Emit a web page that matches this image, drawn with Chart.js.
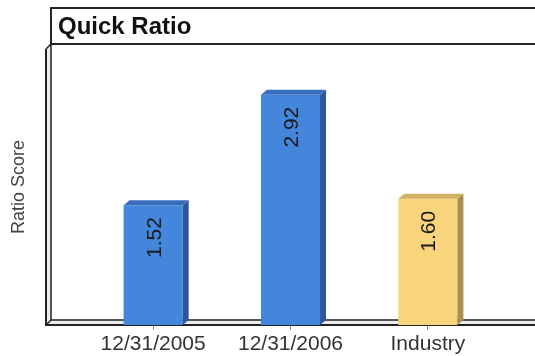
<!DOCTYPE html>
<html>
<head>
<meta charset="utf-8">
<script src="https://cdn.jsdelivr.net/npm/chart.js@4/dist/chart.umd.min.js"></script>
<style>
  html, body { margin: 0; padding: 0; background: #ffffff; }
  #wrap { width: 535px; height: 356px; }
</style>
</head>
<body>
<div id="wrap"><canvas id="c" width="535" height="356"></canvas></div>
<script>
// Quick ratio by period, compared with the industry figure
const categories = ['12/31/2005', '12/31/2006', 'Industry'];
const ratioValues = [1.52, 2.92, 1.60];
const chartTitle = 'Quick Ratio';
const yAxisTitle = 'Ratio Score';

const frontColors = ['#4386DC', '#4386DC', '#F8D57C'];
const sideColors  = ['#2D5898', '#2D5898', '#A98E4F'];
const topColors   = ['#3A6CBD', '#3A6CBD', '#D3B163'];

const FONT = '"Liberation Sans", Arial, Helvetica, sans-serif';
const WALL = { dx: 5, dy: -5 };   // depth of the back wall / floor
const BAR  = { dx: 6, dy: -5 };   // depth of each 3D bar

// Title box, back wall and floor drawn behind the bars
const frame3d = {
  id: 'frame3d',
  beforeDatasetsDraw(chart) {
    const { ctx, chartArea: a } = chart;
    const W = chart.width;
    const L = a.left, B = a.bottom, T = a.top;
    const iL = L + WALL.dx, iT = T + WALL.dy, iB = B + WALL.dy;
    ctx.save();

    // title box
    ctx.fillStyle = '#ffffff';
    ctx.fillRect(iL, 8, W, iT - 8);
    ctx.strokeStyle = '#262626';
    ctx.lineWidth = 2;
    ctx.strokeRect(iL, 8, W + 10, iT - 8);
    ctx.fillStyle = '#111111';
    ctx.font = 'bold 24px ' + FONT;
    ctx.textAlign = 'left';
    ctx.textBaseline = 'alphabetic';
    ctx.fillText(chartTitle, iL + 7, 34);

    // left wall
    ctx.fillStyle = '#ececec';
    ctx.beginPath();
    ctx.moveTo(L, T); ctx.lineTo(iL, iT); ctx.lineTo(iL, iB); ctx.lineTo(L, B);
    ctx.closePath(); ctx.fill();

    // floor
    ctx.beginPath();
    ctx.moveTo(L, B); ctx.lineTo(iL, iB); ctx.lineTo(W + 2, iB); ctx.lineTo(W + 2, B);
    ctx.closePath(); ctx.fill();

    ctx.strokeStyle = '#222222';
    ctx.lineWidth = 2;
    ctx.beginPath();
    ctx.moveTo(L, T); ctx.lineTo(L, B); ctx.lineTo(W + 2, B);
    ctx.stroke();
    ctx.lineWidth = 1.5;
    ctx.beginPath();
    ctx.moveTo(L, T); ctx.lineTo(iL, iT);
    ctx.moveTo(iL, iT); ctx.lineTo(iL, iB); ctx.lineTo(W + 2, iB);
    ctx.moveTo(L, B); ctx.lineTo(iL, iB);
    ctx.stroke();
    ctx.restore();
  },
  afterDatasetsDraw(chart) {
    const { ctx } = chart;
    const meta = chart.getDatasetMeta(0);
    const values = chart.data.datasets[0].data;
    ctx.save();
    meta.data.forEach((bar, i) => {
      const p = bar.getProps(['x', 'y', 'base', 'width'], true);
      const l = p.x - p.width / 2, r = p.x + p.width / 2;
      // side face
      ctx.fillStyle = sideColors[i];
      ctx.beginPath();
      ctx.moveTo(r, p.y); ctx.lineTo(r + BAR.dx, p.y + BAR.dy);
      ctx.lineTo(r + BAR.dx, p.base + BAR.dy); ctx.lineTo(r, p.base);
      ctx.closePath(); ctx.fill();
      // top face
      ctx.fillStyle = topColors[i];
      ctx.beginPath();
      ctx.moveTo(l, p.y); ctx.lineTo(l + BAR.dx, p.y + BAR.dy);
      ctx.lineTo(r + BAR.dx, p.y + BAR.dy); ctx.lineTo(r, p.y);
      ctx.closePath(); ctx.fill();

      // rotated value label
      const size = 21;
      ctx.save();
      ctx.translate(p.x + size * 0.358, p.y + 12);
      ctx.rotate(-Math.PI / 2);
      ctx.font = size + 'px ' + FONT;
      ctx.fillStyle = '#1a1a1a';
      ctx.textAlign = 'right';
      ctx.textBaseline = 'alphabetic';
      ctx.fillText(values[i].y.toFixed(2), 0, 0);
      ctx.restore();
    });
    ctx.restore();
  }
};

new Chart(document.getElementById('c'), {
  type: 'bar',
  data: {
    datasets: [{
      data: ratioValues.map((v, i) => ({ x: i, y: v })),
      backgroundColor: frontColors,
      borderWidth: 0,
      barPercentage: 0.43,
      categoryPercentage: 1
    }]
  },
  options: {
    responsive: false,
    devicePixelRatio: 1,
    animation: false,
    layout: { padding: { top: 49, left: 0, right: 0, bottom: 0 } },
    plugins: { legend: { display: false }, tooltip: { enabled: false }, title: { display: false } },
    scales: {
      x: {
        type: 'linear',
        min: -0.78,
        max: 2.78,
        offset: false,
        afterBuildTicks(scale) { scale.ticks = categories.map((c, i) => ({ value: i })); },
        afterFit(scale) { scale.height = 31; },
        grid: { display: true, offset: false, drawOnChartArea: false, tickLength: 5, color: '#888888', lineWidth: 1 },
        border: { display: false },
        ticks: {
          callback: (v) => categories[v] ?? '',
          font: { family: FONT, size: 21 },
          color: '#333333',
          padding: 2,
          maxRotation: 0,
          autoSkip: false
        }
      },
      y: {
        type: 'linear',
        min: 0,
        max: 3.5,
        afterFit(scale) { scale.width = 46; },
        grid: { display: false },
        border: { display: false },
        ticks: { display: false },
        title: {
          display: true,
          text: yAxisTitle,
          font: { family: FONT, size: 18 },
          color: '#444444',
          padding: { top: 8, bottom: 0 }
        }
      }
    }
  },
  plugins: [frame3d]
});
</script>
</body>
</html>
